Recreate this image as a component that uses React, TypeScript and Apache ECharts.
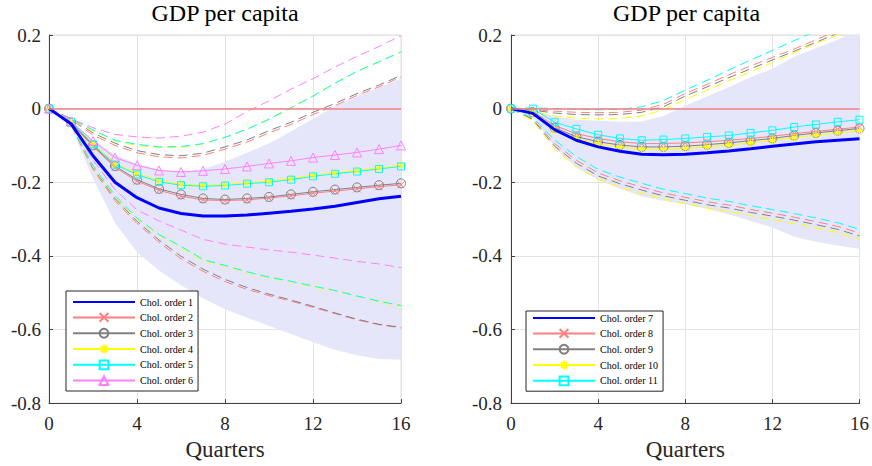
import React, { useEffect, useRef } from "react";
import * as echarts from "echarts";

// ---------- data ----------
const quarters = [0, 1, 2, 3, 4, 5, 6, 7, 8, 9, 10, 11, 12, 13, 14, 15, 16];
const xTicks = [0, 4, 8, 12, 16];
const yTicks = [-0.8, -0.6, -0.4, -0.2, 0, 0.2];
const panelTitles = ["GDP per capita", "GDP per capita"];
const xAxisName = "Quarters";
const leftNames = ["Chol. order 1", "Chol. order 2", "Chol. order 3", "Chol. order 4", "Chol. order 5", "Chol. order 6"];
const rightNames = ["Chol. order 7", "Chol. order 8", "Chol. order 9", "Chol. order 10", "Chol. order 11"];

// Left panel
const chol1 = [0, -0.041, -0.128, -0.2, -0.242, -0.27, -0.285, -0.292, -0.292, -0.289, -0.284, -0.279, -0.273, -0.265, -0.255, -0.245, -0.238];
const chol1Lower = [0, -0.05, -0.19, -0.31, -0.39, -0.44, -0.48, -0.515, -0.545, -0.568, -0.59, -0.612, -0.635, -0.655, -0.67, -0.68, -0.682];
const chol1Upper = [0, -0.033, -0.085, -0.125, -0.15, -0.165, -0.172, -0.165, -0.144, -0.12, -0.095, -0.062, -0.028, 0.008, 0.033, 0.057, 0.082];
const chol2 = [0, -0.039, -0.103, -0.16, -0.197, -0.222, -0.238, -0.248, -0.25, -0.248, -0.243, -0.237, -0.23, -0.224, -0.218, -0.212, -0.207];
const chol2Lower = [0, -0.045, -0.165, -0.25, -0.312, -0.363, -0.408, -0.442, -0.47, -0.491, -0.508, -0.523, -0.54, -0.557, -0.574, -0.587, -0.596];
const chol2Upper = [0, -0.03, -0.072, -0.1, -0.12, -0.131, -0.134, -0.127, -0.11, -0.091, -0.066, -0.043, -0.016, 0.008, 0.036, 0.059, 0.086];
const chol3 = [0, -0.037, -0.1, -0.156, -0.193, -0.218, -0.233, -0.244, -0.247, -0.244, -0.24, -0.233, -0.226, -0.22, -0.214, -0.208, -0.203];
const chol3Lower = [0, -0.043, -0.16, -0.244, -0.306, -0.357, -0.401, -0.436, -0.464, -0.486, -0.504, -0.52, -0.537, -0.555, -0.572, -0.586, -0.594];
const chol3Upper = [0, -0.027, -0.066, -0.094, -0.114, -0.125, -0.128, -0.121, -0.104, -0.085, -0.06, -0.037, -0.01, 0.014, 0.041, 0.064, 0.09];
const chol4 = [0, -0.035, -0.095, -0.15, -0.176, -0.196, -0.205, -0.208, -0.206, -0.201, -0.197, -0.19, -0.181, -0.174, -0.168, -0.161, -0.154];
const chol4Lower = [0, -0.043, -0.158, -0.24, -0.3, -0.345, -0.377, -0.413, -0.428, -0.445, -0.46, -0.471, -0.484, -0.495, -0.51, -0.525, -0.537];
const chol4Upper = [0, -0.03, -0.06, -0.088, -0.1, -0.106, -0.105, -0.096, -0.078, -0.055, -0.028, 0.003, 0.035, 0.07, 0.102, 0.128, 0.155];
const chol5 = [0, -0.036, -0.097, -0.152, -0.179, -0.199, -0.208, -0.211, -0.209, -0.204, -0.2, -0.193, -0.184, -0.177, -0.171, -0.164, -0.157];
const chol5Lower = [0, -0.042, -0.155, -0.236, -0.297, -0.342, -0.374, -0.41, -0.426, -0.443, -0.458, -0.469, -0.482, -0.494, -0.509, -0.523, -0.535];
const chol5Upper = [0, -0.028, -0.058, -0.086, -0.097, -0.104, -0.103, -0.095, -0.078, -0.056, -0.029, 0.002, 0.034, 0.069, 0.101, 0.127, 0.154];
const chol6 = [0, -0.035, -0.088, -0.133, -0.154, -0.168, -0.172, -0.169, -0.164, -0.157, -0.149, -0.142, -0.133, -0.126, -0.119, -0.11, -0.1];
const chol6Lower = [0, -0.04, -0.14, -0.22, -0.275, -0.305, -0.33, -0.355, -0.368, -0.376, -0.384, -0.39, -0.398, -0.406, -0.415, -0.422, -0.432];
const chol6Upper = [0, -0.028, -0.052, -0.07, -0.077, -0.08, -0.075, -0.064, -0.042, -0.008, 0.021, 0.053, 0.081, 0.113, 0.142, 0.169, 0.198];

// Right panel
const chol7 = [0, -0.013, -0.057, -0.086, -0.104, -0.116, -0.124, -0.125, -0.124, -0.12, -0.115, -0.109, -0.102, -0.096, -0.09, -0.086, -0.082];
const chol7Lower = [0, -0.02, -0.105, -0.16, -0.193, -0.218, -0.238, -0.25, -0.26, -0.273, -0.287, -0.305, -0.323, -0.348, -0.362, -0.372, -0.381];
const chol7Upper = [0, -0.008, -0.02, -0.03, -0.033, -0.036, -0.035, -0.02, 0.008, 0.033, 0.058, 0.085, 0.108, 0.14, 0.165, 0.187, 0.215];
const chol8 = [0, -0.008, -0.046, -0.068, -0.081, -0.09, -0.095, -0.095, -0.093, -0.09, -0.086, -0.081, -0.075, -0.068, -0.062, -0.056, -0.05];
const chol8Lower = [0, -0.028, -0.095, -0.14, -0.175, -0.196, -0.213, -0.229, -0.241, -0.253, -0.262, -0.274, -0.284, -0.295, -0.307, -0.32, -0.338];
const chol8Upper = [0, -0.002, -0.007, -0.01, -0.011, -0.01, -0.004, 0.012, 0.041, 0.066, 0.092, 0.116, 0.139, 0.162, 0.187, 0.212, 0.237];
const chol9 = [0, -0.01, -0.052, -0.076, -0.09, -0.099, -0.104, -0.104, -0.102, -0.098, -0.093, -0.087, -0.081, -0.073, -0.066, -0.06, -0.054];
const chol9Lower = [0, -0.03, -0.102, -0.148, -0.183, -0.204, -0.221, -0.237, -0.249, -0.261, -0.27, -0.282, -0.292, -0.303, -0.315, -0.328, -0.346];
const chol9Upper = [0, -0.004, -0.012, -0.016, -0.017, -0.016, -0.01, 0.005, 0.034, 0.059, 0.084, 0.108, 0.132, 0.156, 0.18, 0.205, 0.23];
const chol10 = [0, -0.012, -0.058, -0.082, -0.096, -0.105, -0.11, -0.11, -0.108, -0.104, -0.099, -0.093, -0.086, -0.079, -0.072, -0.066, -0.06];
const chol10Lower = [0, -0.033, -0.11, -0.157, -0.192, -0.213, -0.23, -0.246, -0.258, -0.27, -0.279, -0.291, -0.301, -0.312, -0.324, -0.337, -0.355];
const chol10Upper = [0, -0.007, -0.02, -0.026, -0.028, -0.027, -0.02, -0.003, 0.025, 0.05, 0.076, 0.1, 0.125, 0.152, 0.177, 0.2, 0.225];
const chol11 = [0, 0, -0.037, -0.055, -0.071, -0.081, -0.086, -0.084, -0.081, -0.077, -0.073, -0.066, -0.059, -0.05, -0.043, -0.036, -0.03];
const chol11Lower = [0, -0.025, -0.085, -0.13, -0.165, -0.186, -0.203, -0.219, -0.231, -0.243, -0.252, -0.264, -0.274, -0.285, -0.297, -0.31, -0.328];
const chol11Upper = [0, 0.002, 0, -0.002, -0.003, -0.002, 0.005, 0.022, 0.05, 0.077, 0.105, 0.132, 0.158, 0.185, 0.21, 0.235, 0.26];

// ---------- styles ----------
const SERIF = "Liberation Serif";
const BLUE = "#0000ff";
const PINK = "#ff8080";
const GREY = "#808080";
const YELLOW = "#ffff00";
const CYAN = "#00ffff";
const MAGENTA = "#ff80ff";
const SHADE = "#e6e6fa";

const X_SYMBOL = "path://M0,0L10,10M10,0L0,10";
const STAR_SYMBOL = "path://M5,0L5,10M0,5L10,5M1.5,1.5L8.5,8.5M8.5,1.5L1.5,8.5";

type Mark = { symbol: string; size: number; width: number; color: string };
const STYLE: Record<string, Mark> = {
  blue: { color: BLUE, symbol: "none", size: 0, width: 3 },
  pink: { color: PINK, symbol: X_SYMBOL, size: 7, width: 1 },
  grey: { color: GREY, symbol: "circle", size: 9, width: 1 },
  yellow: { color: YELLOW, symbol: STAR_SYMBOL, size: 8, width: 1 },
  cyan: { color: CYAN, symbol: "rect", size: 7, width: 1 },
  magenta: { color: MAGENTA, symbol: "triangle", size: 9, width: 1 },
};

const pairs = (vals: number[]) => quarters.map((q, i) => [q, vals[i]]);

function mainSeries(name: string, vals: number[], key: string, g: number, extra: any = {}) {
  const s = STYLE[key];
  return {
    name,
    type: "line",
    xAxisIndex: g,
    yAxisIndex: g,
    data: pairs(vals),
    symbol: s.symbol,
    symbolSize: s.size,
    showSymbol: s.symbol !== "none",
    color: s.color,
    lineStyle: { color: s.color, width: s.width },
    itemStyle:
      s.symbol === "none"
        ? { color: s.color }
        : { color: "rgba(255,255,255,0)", borderColor: s.color, borderWidth: 1 },
    emphasis: { disabled: true },
    z: key === "blue" ? 4 : 3,
    ...extra,
  };
}

function dashedSeries(vals: number[], key: string, g: number) {
  const c = STYLE[key].color;
  return {
    type: "line",
    xAxisIndex: g,
    yAxisIndex: g,
    data: pairs(vals),
    symbol: "none",
    silent: true,
    lineStyle: { color: c, width: 1, type: [9, 5] },
    emphasis: { disabled: true },
    z: 2,
  };
}

function shadeSeries(lower: number[], upper: number[], g: number) {
  return {
    type: "custom",
    xAxisIndex: g,
    yAxisIndex: g,
    silent: true,
    clip: true,
    z: 1,
    data: quarters.map((q, i) => [q, lower[i], upper[i]]),
    encode: { x: 0, y: [1, 2] },
    renderItem: (params: any, api: any) => {
      if (params.dataIndex !== 0) return null;
      const pts: number[][] = [];
      for (let i = 0; i < quarters.length; i++) pts.push(api.coord([quarters[i], upper[i]]));
      for (let i = quarters.length - 1; i >= 0; i--) pts.push(api.coord([quarters[i], lower[i]]));
      return {
        type: "polygon",
        shape: { points: pts },
        style: { fill: SHADE, stroke: null },
      };
    },
  };
}

const zeroLine = {
  silent: true,
  symbol: ["none", "none"],
  label: { show: false },
  lineStyle: { color: "#f08080", type: "solid", width: 1.5 },
  data: [{ yAxis: 0 }],
};

const GRIDS = [
  { left: 49, top: 35, width: 352, height: 373 },
  { left: 511, top: 35, width: 351, height: 373 },
];

function makeXAxis(g: number) {
  return {
    type: "value",
    gridIndex: g,
    min: xTicks[0],
    max: xTicks[xTicks.length - 1],
    interval: xTicks[1] - xTicks[0],
    name: xAxisName,
    nameLocation: "middle",
    nameGap: 30,
    nameTextStyle: { fontFamily: SERIF, fontSize: 23, color: "#262626" },
    axisLine: { show: true, onZero: false, lineStyle: { color: "#404040", width: 1 } },
    axisTick: { show: true, inside: true, length: 4, lineStyle: { color: "#404040" } },
    axisLabel: { margin: 11, fontFamily: SERIF, fontSize: 19, color: "#262626" },
    splitLine: { show: true, lineStyle: { color: "#e3e3e3", width: 1 } },
  };
}

function makeYAxis(g: number) {
  return {
    type: "value",
    gridIndex: g,
    min: yTicks[0],
    max: yTicks[yTicks.length - 1],
    interval: 0.2,
    axisLine: { show: true, onZero: false, lineStyle: { color: "#404040", width: 1 } },
    axisTick: { show: true, inside: true, length: 4, lineStyle: { color: "#404040" } },
    axisLabel: {
      margin: g === 0 ? 8 : 9,
      fontFamily: SERIF,
      fontSize: 19,
      color: "#262626",
      formatter: (v: number) => String(Math.round(v * 10) / 10),
    },
    splitLine: { show: true, lineStyle: { color: "#e3e3e3", width: 1 } },
  };
}

function makeLegend(names: string[], left: number, top: number, padTop: number) {
  return {
    data: names.map((n, i) => (i === 0 ? { name: n, itemStyle: { opacity: 0 } } : { name: n })),
    orient: "vertical",
    left,
    top,
    itemWidth: 62,
    itemHeight: 11,
    itemGap: 5,
    padding: [padTop, 5, 5, 6],
    borderColor: "#262626",
    borderWidth: 1,
    backgroundColor: "#ffffff",
    selectedMode: false,
    textStyle: { fontFamily: SERIF, fontSize: 10, color: "#000000" },
  };
}

export default function App() {
  const ref = useRef<HTMLDivElement>(null);
  useEffect(() => {
    if (!ref.current) return;
    const chart = echarts.init(ref.current, null, { renderer: "svg" });
    const series: any[] = [
      // left panel
      shadeSeries(chol1Lower, chol1Upper, 0),
      dashedSeries(chol2Upper, "pink", 0),
      dashedSeries(chol2Lower, "pink", 0),
      dashedSeries(chol3Upper, "grey", 0),
      dashedSeries(chol3Lower, "grey", 0),
      dashedSeries(chol4Upper, "yellow", 0),
      dashedSeries(chol4Lower, "yellow", 0),
      dashedSeries(chol5Upper, "cyan", 0),
      dashedSeries(chol5Lower, "cyan", 0),
      dashedSeries(chol6Upper, "magenta", 0),
      dashedSeries(chol6Lower, "magenta", 0),
      mainSeries(leftNames[0], chol1, "blue", 0, { markLine: zeroLine }),
      mainSeries(leftNames[1], chol2, "pink", 0),
      mainSeries(leftNames[2], chol3, "grey", 0),
      mainSeries(leftNames[3], chol4, "yellow", 0),
      mainSeries(leftNames[4], chol5, "cyan", 0),
      mainSeries(leftNames[5], chol6, "magenta", 0),
      // right panel
      shadeSeries(chol7Lower, chol7Upper, 1),
      dashedSeries(chol8Upper, "pink", 1),
      dashedSeries(chol8Lower, "pink", 1),
      dashedSeries(chol9Upper, "grey", 1),
      dashedSeries(chol9Lower, "grey", 1),
      dashedSeries(chol10Upper, "yellow", 1),
      dashedSeries(chol10Lower, "yellow", 1),
      dashedSeries(chol11Upper, "cyan", 1),
      dashedSeries(chol11Lower, "cyan", 1),
      mainSeries(rightNames[0], chol7, "blue", 1, { markLine: zeroLine }),
      mainSeries(rightNames[1], chol8, "pink", 1),
      mainSeries(rightNames[2], chol9, "grey", 1),
      mainSeries(rightNames[3], chol10, "yellow", 1),
      mainSeries(rightNames[4], chol11, "cyan", 1),
    ];
    chart.setOption({
      animation: false,
      backgroundColor: "#ffffff",
      textStyle: { fontFamily: SERIF },
      grid: GRIDS.map((g) => ({ ...g, show: true, borderColor: "#dcdcdc", borderWidth: 1, backgroundColor: "transparent" })),
      xAxis: [makeXAxis(0), makeXAxis(1)],
      yAxis: [makeYAxis(0), makeYAxis(1)],
      legend: [makeLegend(leftNames, 66, 291, 6), makeLegend(rightNames, 526, 311, 2)],
      graphic: GRIDS.map((g, i) => ({
        type: "text",
        x: g.left + g.width / 2,
        y: 13,
        silent: true,
        style: {
          text: panelTitles[i],
          align: "center",
          verticalAlign: "middle",
          fontFamily: SERIF,
          fontSize: 24,
          fill: "#000000",
        },
      })),
      series,
    });
    return () => chart.dispose();
  }, []);
  return (
    <div
      ref={ref}
      style={{ position: "absolute", left: 0, top: 0, width: 872, height: 466, background: "#fff" }}
    />
  );
}
